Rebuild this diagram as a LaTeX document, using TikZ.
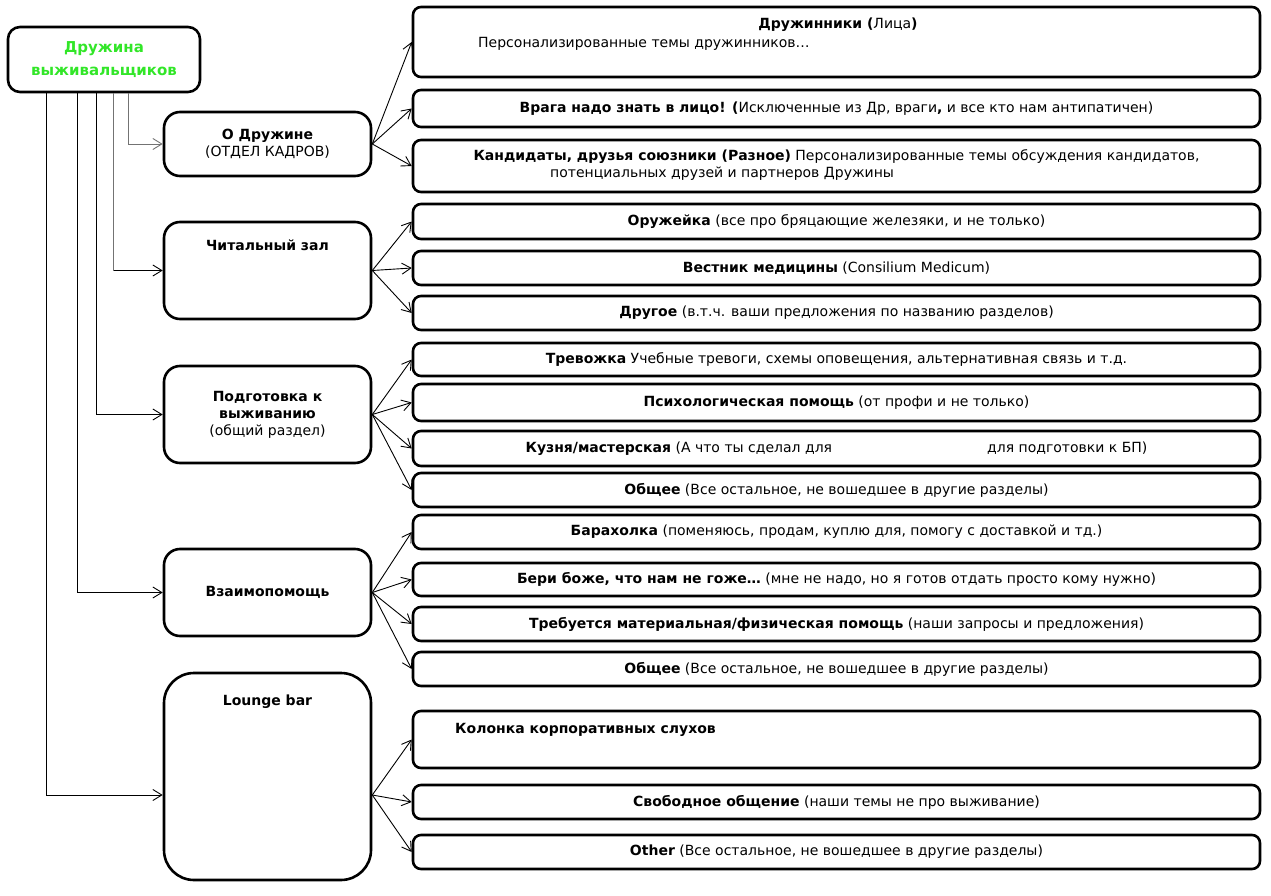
\documentclass[tikz,border=0pt]{standalone}
\usepackage{fontspec}
\setmainfont{DejaVu Sans}
\usetikzlibrary{arrows.meta}
\definecolor{rootgreen}{RGB}{50,230,40}
\tikzset{
  rbox/.style={draw, line width=2.6pt, rounded corners=8pt, minimum width=847pt, inner sep=0pt, font=\fontsize{14}{17}\selectfont},
  cbox/.style={draw, line width=2.6pt, rounded corners=16pt, minimum width=207pt, inner sep=0pt, align=center, font=\fontsize{14}{17}\selectfont},
  txt/.style={inner sep=0pt, font=\fontsize{14}{17}\selectfont},
  conn/.style={line width=0.9pt},
  arr/.style={line width=0.9pt, -{Straight Barb[length=9pt,width=11pt,line width=0.9pt]}}
}
\begin{document}
\begin{tikzpicture}[x=1pt,y=-1pt]
\useasboundingbox (0,0) rectangle (1271,896);
% root
\node[draw, line width=2.6pt, rounded corners=12pt, minimum width=192pt, minimum height=65pt, align=center,
  font=\fontsize{15}{23}\selectfont\bfseries, text=rootgreen] (root) at (104,59.5) {Дружина\\выживальщиков};
% categories
\node[cbox, minimum height=64pt] (odr) at (267.5,144) {};
\node[txt, align=center] (odrt) at (267.5,143.5) {\textbf{О Дружине}\\(ОТДЕЛ КАДРОВ)};
\node[cbox, minimum height=97pt] (chit) at (267.5,270.5) {};
\node[txt, font=\fontsize{14}{17}\selectfont\bfseries] (chitt) at (267.5,245) {Читальный зал};
\node[cbox, minimum height=97pt] (podg) at (267.5,414.5) {\textbf{Подготовка к}\\\textbf{выживанию}\\(общий раздел)};
\node[cbox, minimum height=87pt] (vzaim) at (267.5,592.5) {\textbf{Взаимопомощь}};
\node[cbox, rounded corners=30pt, minimum height=207pt] (lounge) at (267.5,776.5) {};
\node[txt, font=\fontsize{14}{17}\selectfont\bfseries] (loungt) at (267.5,702) {Lounge bar};
% right boxes
\node[rbox, minimum height=70pt] (r1) at (836.5,42) {};
\node[txt] (r1a) at (838,25) {\textbf{Дружинники (}Лица\textbf{)}};
\node[txt, anchor=west] (r1b) at (478,44) {Персонализированные темы дружинников…};
\node[rbox, minimum height=37pt] (r2) at (836.5,108.5) {\textbf{Врага надо знать в лицо! (}Исключенные из Др, враги\textbf{,} и все кто нам антипатичен)};
\node[rbox, minimum height=52pt] (r3) at (836.5,166) {};
\node[txt] (r3a) at (836.5,157) {\textbf{Кандидаты, друзья союзники (Разное)} Персонализированные темы обсуждения кандидатов,};
\node[txt, anchor=west] (r3b) at (550,174) {потенциальных друзей и партнеров Дружины};
\node[rbox, minimum height=35pt] (r4) at (836.5,221.5) {\textbf{Оружейка} (все про бряцающие железяки, и не только)};
\node[rbox, minimum height=34pt] (r5) at (836.5,268) {\textbf{Вестник медицины} (Consilium Medicum)};
\node[rbox, minimum height=34pt] (r6) at (836.5,313) {\textbf{Другое} (в.т.ч. ваши предложения по названию разделов)};
\node[rbox, minimum height=33pt] (r7) at (836.5,359.5) {\textbf{Тревожка} Учебные тревоги, схемы оповещения, альтернативная связь и т.д.};
\node[rbox, minimum height=37pt] (r8) at (836.5,402.5) {\textbf{Психологическая помощь} (от профи и не только)};
\node[rbox, minimum height=35pt] (r9) at (836.5,448.5) {\textbf{Кузня/мастерская} (А что ты сделал для\hspace{155pt}для подготовки к БП)};
\node[rbox, minimum height=34pt] (r10) at (836.5,490) {\textbf{Общее} (Все остальное, не вошедшее в другие разделы)};
\node[rbox, minimum height=34pt] (r11) at (836.5,532) {\textbf{Барахолка} (поменяюсь, продам, куплю для, помогу с доставкой и тд.)};
\node[rbox, minimum height=33pt] (r12) at (836.5,579.5) {\textbf{Бери боже, что нам не гоже…} (мне не надо, но я готов отдать просто кому нужно)};
\node[rbox, minimum height=34pt] (r13) at (836.5,624) {\textbf{Требуется материальная/физическая помощь} (наши запросы и предложения)};
\node[rbox, minimum height=34pt] (r14) at (836.5,669) {\textbf{Общее} (Все остальное, не вошедшее в другие разделы)};
\node[rbox, minimum height=57pt] (r15) at (836.5,739.5) {};
\node[txt, anchor=west, font=\fontsize{14}{17}\selectfont\bfseries] (r15a) at (455,730) {Колонка корпоративных слухов};
\node[rbox, minimum height=34pt] (r16) at (836.5,802) {\textbf{Свободное общение} (наши темы не про выживание)};
\node[rbox, minimum height=34pt] (r17) at (836.5,852) {\textbf{Other} (Все остальное, не вошедшее в другие разделы)};
% root to categories
\draw[arr, black!55] ([xshift=122pt]root.south west) |- (odr.west);
\draw[conn, black!55] ([xshift=107pt]root.south west) -- ([xshift=107pt]root.south west |- chit.west);
\draw[arr] ([xshift=107pt]root.south west |- chit.west) -- (chit.west);
\draw[arr] ([xshift=90pt]root.south west) |- (podg.west);
\draw[arr] ([xshift=71pt]root.south west) |- (vzaim.west);
\coordinate (lin) at ([yshift=-18.5pt]lounge.west);
\coordinate (lout) at ([yshift=-18.5pt]lounge.east);
\draw[arr] ([xshift=40pt]root.south west) |- (lin);
% categories to topics
\foreach \t in {r1,r2,r3} \draw[arr] (odr.east) -- (\t.west);
\foreach \t in {r4,r5,r6} \draw[arr] (chit.east) -- (\t.west);
\foreach \t in {r7,r8,r9,r10} \draw[arr] (podg.east) -- (\t.west);
\foreach \t in {r11,r12,r13,r14} \draw[arr] (vzaim.east) -- (\t.west);
\foreach \t in {r15,r16,r17} \draw[arr] (lout) -- (\t.west);
\end{tikzpicture}
\end{document}
